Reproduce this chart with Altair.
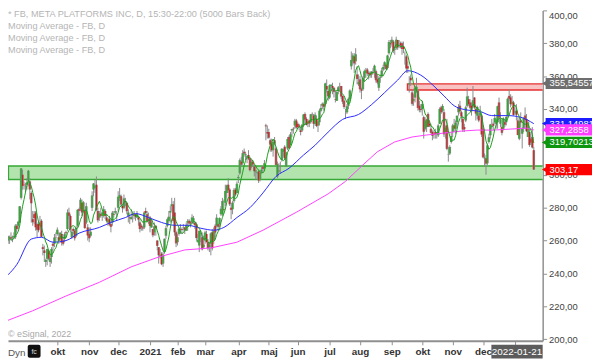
import altair as alt
import pandas as pd
import numpy as np

# ---- daily candles, FB, 2020-08-05 .. 2022-01-21 ----
opens = [
 251,249,266,268,262,257,260,261,262,262,262,262,269,269,271,286,300,294,293,
 294,297,296,289,273,276,277,270,270,269,272,256,254,247,249,254,247,250,258,258,262,
 264,262,261,264,260,261,265,267,277,275,262,267,266,263,269,279,279,283,278,278,271,268,
 264,263,280,291,292,294,278,274,276,275,275,278,274,271,273,270,271,276,277,277,
 280,286,287,281,280,284,283,275,274,273,276,275,276,274,274,271,269,268,268,278,276,272,
 274,268,267,265,269,260,256,250,252,246,253,263,269,272,277,281,282,277,265,
 259,264,267,267,268,268,266,271,272,271,271,272,271,270,259,257,264,262,256,
 260,264,259,256,258,265,260,269,269,270,270,276,276,279,283,289,294,291,280,279,284,291,289,
 298,301,308,307,314,312,311,312,310,305,308,305,302,301,302,297,302,305,304,330,326,
 326,321,319,315,321,316,299,302,305,309,314,317,305,316,323,318,327,328,330,333,
 331,330,327,327,330,337,334,331,333,332,337,336,331,334,330,332,339,342,343,343,354,351,
 347,354,354,353,346,345,351,352,354,348,345,337,338,342,346,366,369,372,369,361,355,
 358,352,352,359,362,364,362,362,361,363,363,363,358,353,359,360,364,366,367,365,374,380,
 380,381,376,377,382,378,380,380,378,374,372,366,355,359,350,345,347,351,351,342,340,
 340,335,328,329,337,331,328,326,325,326,325,324,331,341,339,338,326,330,312,313,320,
 326,330,328,332,338,342,338,334,329,333,342,346,344,342,342,347,340,336,336,336,336,
 328,310,310,307,320,324,329,331,332,331,332,344,331,329,328,332,332,336,348,347,343,344,
 338,339,333,322,333,325,328,336,334,323,326,322,323,315]
highs = [
 252,266,272,269,265,261,263,263,265,263,265,270,270,272,281,304,303,296,295,
 298,303,298,290,278,278,278,271,272,275,273,258,257,249,255,254,252,256,259,264,265,
 268,265,265,266,262,265,266,279,280,276,267,268,267,269,279,280,286,285,284,279,283,270,
 268,268,290,295,297,299,280,278,280,277,281,279,276,274,275,272,278,278,280,278,
 290,292,288,282,288,286,283,279,276,279,277,278,276,278,275,273,270,269,278,280,278,277,
 275,273,267,271,269,260,256,255,253,253,261,269,274,278,281,286,284,286,266,
 264,268,270,268,270,268,271,273,273,272,276,275,271,271,264,266,266,265,263,
 266,266,261,259,265,267,268,270,276,271,274,281,286,285,294,294,298,292,283,284,292,292,296,
 300,310,311,315,316,314,312,315,311,309,309,306,305,302,303,303,305,305,309,331,330,
 328,322,322,320,323,317,308,307,308,316,316,318,314,323,324,326,328,329,334,334,
 332,331,329,331,337,338,335,334,333,337,338,337,338,336,333,340,343,344,344,356,358,352,
 355,355,356,353,351,351,354,356,354,348,347,340,343,347,352,375,374,374,377,366,361,
 360,353,360,364,365,365,363,363,363,365,367,364,361,360,361,365,367,369,368,373,382,382,
 384,382,378,384,382,382,381,381,381,375,373,369,360,361,352,349,354,359,352,345,343,
 345,336,335,334,338,333,331,327,327,328,326,331,341,342,343,340,330,334,317,318,326,
 331,334,333,336,343,345,339,336,331,342,353,348,346,344,354,347,342,342,338,342,337,
 330,313,312,319,325,331,334,332,337,335,342,347,338,331,335,333,336,347,352,349,348,345,
 341,343,335,335,338,329,335,341,337,333,328,325,329,317]
lows = [
 247,249,264,258,255,255,258,258,260,259,261,261,265,267,271,285,291,291,289,
 291,293,285,271,269,270,266,262,265,267,262,251,247,244,245,248,244,246,254,256,259,
 263,258,260,257,257,259,262,266,273,265,261,264,260,262,268,275,278,275,277,267,270,260,
 259,262,278,287,289,278,271,272,274,272,274,273,271,269,269,265,269,274,276,272,
 278,284,281,277,279,281,276,271,270,273,271,273,272,274,269,265,266,266,267,276,271,270,
 265,268,262,263,263,254,246,249,245,244,252,261,268,271,271,278,271,263,256,
 257,263,264,264,266,264,266,266,269,268,270,270,267,260,259,253,259,254,255,
 258,259,254,253,251,254,258,262,268,266,268,275,275,278,281,286,289,281,273,276,283,287,289,
 295,300,305,306,311,309,307,309,302,304,305,299,297,297,295,296,301,301,303,321,322,
 322,314,314,311,318,305,298,301,301,308,311,309,305,315,316,318,323,325,328,328,
 328,327,324,326,329,333,330,329,329,331,334,328,330,329,326,330,338,340,339,342,350,345,
 346,351,349,347,344,345,349,351,346,343,340,334,337,340,345,364,367,362,367,355,354,
 350,346,351,357,359,360,358,359,359,361,359,356,355,351,356,359,363,364,364,364,373,377,
 378,374,373,376,376,377,377,373,374,367,362,362,350,354,342,342,344,350,339,338,338,
 336,322,327,326,329,329,325,321,322,322,322,323,331,337,338,323,322,315,308,312,319,
 323,326,325,330,336,337,332,326,326,332,341,342,340,336,341,340,333,334,332,335,323,
 310,305,300,306,319,322,328,327,331,328,328,333,329,324,327,329,330,335,345,341,342,336,
 337,333,324,321,329,316,326,332,326,323,317,318,316,303]
closes = [
 249.1,265.3,268.4,263.0,256.1,259.9,261.3,261.2,261.2,262.3,262.6,269.0,267.0,271.4,280.8,303.9,293.2,293.7,293.2,
 295.4,302.5,291.1,282.7,271.2,273.7,268.1,266.6,266.2,270.9,262.3,254.8,252.5,248.2,254.8,249.0,249.5,254.8,256.8,261.8,261.9,
 266.6,259.9,264.7,258.7,258.1,263.8,264.5,277.0,275.0,266.8,265.3,265.9,261.4,267.6,278.7,278.1,284.8,277.1,283.3,267.7,280.8,263.1,
 261.4,265.3,287.4,294.7,293.4,278.8,272.4,276.5,275.1,277.0,279.0,275.0,272.0,272.9,269.7,268.4,276.9,275.6,277.8,277.0,
 286.6,287.5,281.9,279.7,285.6,283.4,277.9,277.1,273.6,274.2,275.6,275.7,274.5,276.4,272.8,267.1,268.1,267.4,277.0,276.8,271.9,273.2,
 268.9,271.0,263.3,268.7,267.6,256.8,251.1,251.1,245.6,251.4,261.1,267.5,272.9,274.5,278.0,282.1,272.1,265.0,258.3,
 262.0,267.1,266.7,266.5,268.1,266.6,269.5,271.9,270.4,270.5,274.0,273.6,269.4,261.6,260.3,265.9,264.3,254.7,257.6,
 264.9,259.0,255.4,257.6,264.3,255.3,265.7,264.9,273.9,268.4,273.8,279.3,284.0,278.6,290.1,293.5,290.6,282.1,278.7,283.0,290.8,288.0,294.5,
 298.7,308.9,306.3,313.1,313.0,312.5,311.5,309.8,302.8,307.8,306.2,302.2,302.7,301.5,296.5,301.1,303.0,303.6,307.1,329.5,325.1,
 322.6,318.4,315.0,320.0,319.1,306.0,306.5,302.6,305.3,315.9,315.5,310.0,313.6,321.7,316.2,324.6,327.8,327.7,332.8,328.7,
 329.1,329.2,326.0,330.4,336.6,333.7,330.3,332.5,331.3,336.8,336.8,331.1,336.5,329.7,332.3,339.0,340.6,343.2,341.4,355.6,351.9,347.7,
 354.4,354.7,352.8,350.5,345.7,350.4,353.2,352.1,347.6,344.5,341.2,337.0,341.7,346.2,351.2,369.8,372.5,367.8,373.3,358.3,356.3,
 352.0,351.2,358.9,363.0,363.5,361.6,361.2,360.6,362.7,363.2,366.4,357.5,356.2,358.9,359.4,363.4,365.5,368.4,364.4,372.6,380.7,379.4,
 382.1,375.3,376.3,382.2,377.6,378.0,378.7,376.5,376.5,373.9,364.7,364.7,355.7,357.5,343.2,346.0,353.0,353.6,340.7,339.6,339.4,
 343.0,326.2,333.0,333.6,329.2,330.1,325.5,323.8,324.5,324.8,324.8,330.0,340.0,338.0,341.9,324.6,328.7,315.8,312.2,316.9,323.6,
 330.0,328.1,331.6,335.9,341.1,338.6,335.4,327.6,327.7,340.9,347.6,343.0,340.8,338.7,345.3,341.0,337.3,341.1,333.1,338.0,324.5,
 310.6,310.4,306.8,317.9,322.8,330.6,329.8,329.8,334.5,333.7,341.7,334.9,333.8,325.5,334.2,330.5,335.2,346.2,346.2,342.9,344.4,336.4,
 338.5,336.5,324.2,332.5,331.8,328.1,334.4,333.3,326.5,331.9,318.2,319.6,316.6,303.17]

# trading days per month (aug 2020 .. jan 2022) and month labels
month_days = [19, 21, 22, 20, 22, 19, 19, 23, 21, 20, 22, 21, 22, 21, 21, 21, 22, 14]
month_labels = ["aug", "sep", "okt", "nov", "dec", "2021", "feb", "mar", "apr", "maj",
                "jun", "jul", "aug", "sep", "okt", "nov", "dec", ""]

# moving averages (bar index, value)
blue_idx = [0, 12, 22, 29, 37, 46, 55, 69, 77, 87, 94, 103, 112, 121, 130, 139, 148, 155, 164, 173,
            182, 191, 200, 210, 218, 227, 237, 248, 257, 266, 275, 282, 291, 300, 307, 314, 321, 332,
            340, 351, 360, 369]
blue_val = [234.6, 245.4, 260.9, 262, 259, 260, 264.5, 268, 271, 274, 276.4, 274, 271, 269.3, 269.3,
            267.5, 266.3, 268, 274, 280, 289, 299, 304, 312, 318, 326, 333.7, 336.7, 342.7, 350, 357.6,
            363.3, 360.6, 354, 348, 342, 339.7, 338.5, 336, 336, 335, 331.1]
mag_idx = [0, 23, 46, 69, 91, 110, 128, 146, 164, 182, 205, 227, 239, 251, 261, 273, 285, 295, 307,
           319, 330, 341, 353, 364, 369]
mag_val = [209.5, 217.3, 226.3, 234.6, 244, 250, 254.3, 255.5, 259, 266.3, 277.2, 288.4, 296, 306,
           314, 320, 323, 324.2, 325.4, 326.6, 327.2, 327.2, 327.8, 328.4, 327.3]

# price tags on the right axis
tag_values = [355.54557, 331.14981, 327.2858, 319.70213, 303.17]
tag_labels = ["355,54557", "331,14981", "327,2858", "319,70213", "303,17"]
tag_colors = ["#6e6e6e", "#1c1cff", "#ff3cff", "#0e960e", "#ff0000"]

# horizontal zones
band_start = [6.2, 281.8]
band_lo = [297.1, 351.6]
band_hi = [305.4, 355.3]
band_fill = ["#b4e4ae", "#f8c2c2"]
band_stroke = ["#35a835", "#e63030"]

title_lines = ["* FB, META PLATFORMS INC, D, 15:30-22:00 (5000 Bars Back)",
               "Moving Average - FB, D", "Moving Average - FB, D", "Moving Average - FB, D"]

FONT = "Liberation Sans"
X_MIN, X_MAX = 5.93, 375.14

df = pd.DataFrame({"idx": np.arange(len(closes)), "o": opens, "h": highs, "l": lows, "c": closes})
df["h"] = df[["h", "o", "c"]].max(axis=1)
df["l"] = df[["l", "o", "c"]].min(axis=1)
df["dir"] = np.where(df["c"] >= df["o"], "up", "down")

starts = np.concatenate([[0], np.cumsum(month_days)[:-1]])
tick_vals = [int(s) for s in starts[2:]]
tick_labs = month_labels[2:]
expr = ""
for v, lab in zip(tick_vals, tick_labs):
    expr += f"datum.value == {v} ? '{lab}' : "
expr += "''"

xs = alt.Scale(domain=[X_MIN, X_MAX], nice=False, zero=False, padding=0)
ys = alt.Scale(domain=[199, 400], nice=False, zero=False, padding=0)

x_axis = alt.Axis(values=tick_vals, labelExpr=expr, title=None, grid=False,
                  domainColor="#8f8f8f", domainWidth=2, tickColor="#8f8f8f", tickSize=4,
                  labelFont=FONT, labelFontSize=10, labelFontWeight="bold", labelColor="#333333",
                  labelPadding=2, labelOverlap=False, labelFlush=False, labelBound=False)
y_axis = alt.Axis(orient="right", values=list(range(200, 401, 20)),
                  labelExpr="replace(format(datum.value, '.2f'), '.', ',')", title=None, grid=False,
                  domainColor="#8f8f8f", domainWidth=1.5, tickColor="#8f8f8f", tickSize=4,
                  labelFont=FONT, labelFontSize=9.5, labelColor="#444444", labelPadding=2,
                  labelFlush=True, labelOverlap=False)


def X(field):
    return alt.X(field, scale=xs, axis=x_axis)


def Y(field):
    return alt.Y(field, scale=ys, axis=y_axis)


bands_df = pd.DataFrame({"x0": band_start, "lo": band_lo, "hi": band_hi,
                         "fill": band_fill, "stroke": band_stroke})
bands_df["x1"] = X_MAX + 2
bands = alt.Chart(bands_df).mark_rect(clip=True, strokeWidth=1.5).encode(
    x=X("x0:Q"), x2="x1:Q", y=Y("lo:Q"), y2="hi:Q",
    fill=alt.Fill("fill:N", scale=None), stroke=alt.Stroke("stroke:N", scale=None))

wicks = alt.Chart(df).mark_rule(clip=True, color="#8a8a8a", strokeWidth=1).encode(
    x=X("idx:Q"), y=Y("l:Q"), y2="h:Q")

bodies = alt.Chart(df).mark_bar(clip=True, color="#8a8a8a", size=2.6).encode(
    x=X("idx:Q"), y=Y("o:Q"), y2="c:Q")

cores = alt.Chart(df).mark_rule(clip=True, strokeWidth=1).encode(
    x=X("idx:Q"), y=Y("o:Q"), y2="c:Q",
    color=alt.Color("dir:N", scale=alt.Scale(domain=["up", "down"], range=["#12b812", "#e01010"]),
                    legend=None))

mag = alt.Chart(pd.DataFrame({"i": mag_idx, "v": mag_val})).mark_line(
    clip=True, color="#ff40ff", strokeWidth=1).encode(x=X("i:Q"), y=Y("v:Q"))

blue = alt.Chart(pd.DataFrame({"i": blue_idx, "v": blue_val})).mark_line(
    clip=True, color="#2a2aff", strokeWidth=1, interpolate="monotone").encode(x=X("i:Q"), y=Y("v:Q"))

green = alt.Chart(df).transform_window(
    ma="mean(c)", frame=[-5, 0], sort=[alt.SortField("idx")]
).mark_line(clip=True, color="#1a9e1a", strokeWidth=1).encode(x=X("idx:Q"), y=Y("ma:Q"))

tags_df = pd.DataFrame({"v": tag_values, "lab": tag_labels, "col": tag_colors,
                        "k": range(len(tag_values))})
tags_df["top"] = tags_df["v"] + 3.4
tags_df["bot"] = tags_df["v"] - 3.4
tag_layers = []
for _, r in tags_df.iterrows():
    one = tags_df[tags_df["k"] == r["k"]]
    tag_layers.append(alt.Chart(one).mark_rect(color=r["col"]).encode(
        x=alt.value(545), x2=alt.value(600), y=Y("top:Q"), y2="bot:Q"))
    tag_layers.append(alt.Chart(one).mark_point(shape="triangle-left", filled=True, opacity=1,
                                               color=r["col"], size=40).encode(
        x=alt.value(544), y=Y("v:Q")))
    tag_layers.append(alt.Chart(one).mark_text(align="left", baseline="middle", color="white",
                                              font=FONT, fontSize=9.5).encode(
        x=alt.value(549), y=Y("v:Q"), text="lab:N"))

one_row = pd.DataFrame({"a": [0]})
text_layers = []
for k, line in enumerate(title_lines):
    text_layers.append(alt.Chart(one_row).mark_text(
        align="left", baseline="middle", font=FONT, fontSize=9.3, color="#b5b5b5", text=line
    ).encode(x=alt.value(0), y=alt.value(4 + 12 * k)))
text_layers.append(alt.Chart(one_row).mark_text(
    align="left", baseline="middle", font=FONT, fontSize=9, color="#a8a8a8", text="© eSignal, 2022"
).encode(x=alt.value(0), y=alt.value(328)))
text_layers.append(alt.Chart(one_row).mark_text(
    align="left", baseline="middle", font=FONT, fontSize=10, color="#555555", text="Dyn"
).encode(x=alt.value(0), y=alt.value(347)))
text_layers.append(alt.Chart(one_row).mark_rect(color="#111111", cornerRadius=2).encode(
    x=alt.value(20), x2=alt.value(33), y=alt.value(339), y2=alt.value(352)))
text_layers.append(alt.Chart(one_row).mark_text(
    align="center", baseline="middle", font=FONT, fontSize=7, color="#dddddd", text="fc"
).encode(x=alt.value(26.5), y=alt.value(346)))
text_layers.append(alt.Chart(one_row).mark_rect(color="#5c5c5c").encode(
    x=alt.value(490), x2=alt.value(542), y=alt.value(339), y2=alt.value(353)))
text_layers.append(alt.Chart(one_row).mark_text(
    align="center", baseline="middle", font=FONT, fontSize=10, color="white", text="2022-01-21"
).encode(x=alt.value(516), y=alt.value(346.5)))

chart = alt.layer(
    bands, wicks, bodies, cores, mag, blue, green, *tag_layers, *text_layers
).properties(
    width=542, height=335,
    autosize=alt.AutoSizeParams(type="none"),
    padding={"left": 0, "top": 0, "right": 50, "bottom": 18},
    background="white"
).configure_view(stroke=None)

chart.save("out.html", embed_options={"renderer": "svg", "actions": False})
